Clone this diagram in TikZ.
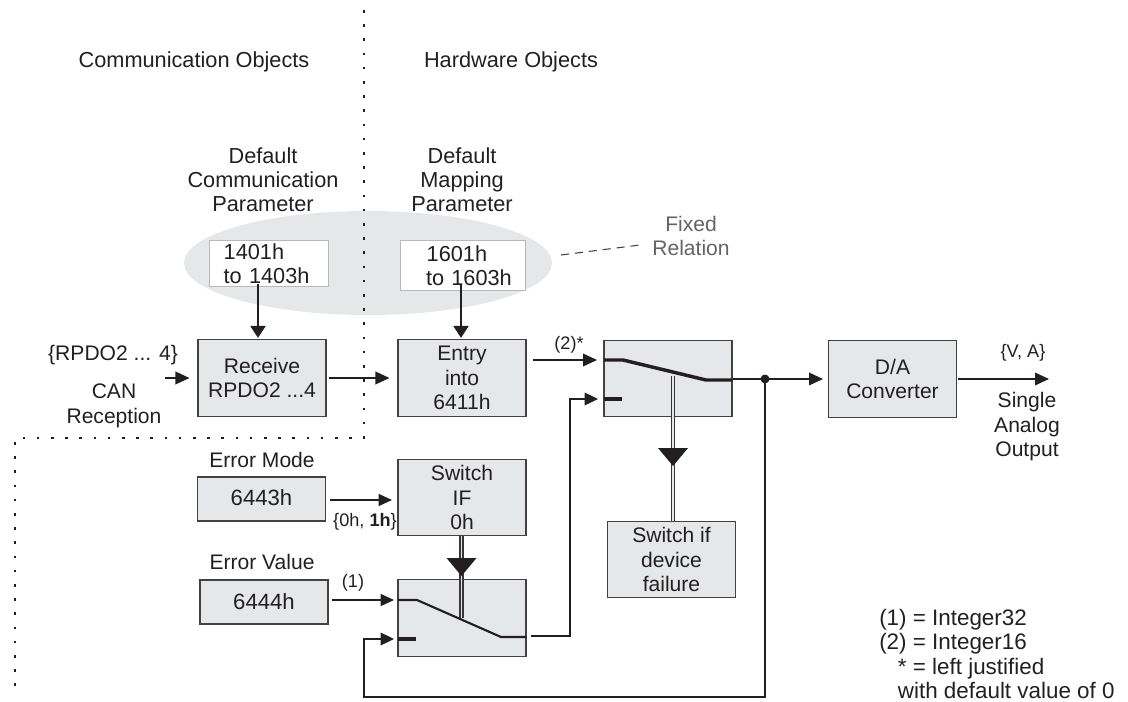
\documentclass[tikz,border=0pt]{standalone}
\usepackage{fontspec}
\setmainfont{Liberation Sans}
\usetikzlibrary{arrows.meta}
\definecolor{boxgray}{HTML}{E6E7E8}
\definecolor{ink}{HTML}{231F20}
\definecolor{fixedgray}{HTML}{646466}
\tikzset{
  lbl/.style={inner sep=0pt,text=ink,align=center,font=\fontsize{15.8}{18.4}\selectfont},
  biglbl/.style={lbl,font=\fontsize{16.3}{18}\selectfont},
  small/.style={inner sep=0pt,text=ink,align=left,font=\fontsize{13.6}{15.6}\selectfont},
  box/.style={lbl,draw=ink!85,line width=0.8pt,fill=boxgray,minimum width=96pt,minimum height=57.5pt},
  lowbox/.style={box,minimum height=33pt,font=\fontsize{16.6}{18.4}\selectfont},
  whitebox/.style={biglbl,align=left,draw=black!28,line width=0.7pt,fill=white,minimum height=35pt},
  wire/.style={draw=ink,line width=1.1pt,-{Triangle[length=10.5pt,width=9.5pt]}},
  plainwire/.style={draw=ink,line width=0.9pt},
  thin wire/.style={draw=ink,line width=0.9pt,-{Triangle[length=10pt,width=9pt]}},
  heavy wire/.style={draw=ink,line width=2.1pt,-{Triangle[length=9pt,width=11pt]}},
  contact/.style={draw=ink,line width=2.6pt},
  dbl/.style={draw=ink!90,double=boxgray,double distance=1.4pt,line width=0.9pt},
  dotline/.style={draw=ink,line width=1.9pt,dash pattern=on 1.9pt off 8.75pt},
}
\begin{document}
\begin{tikzpicture}[x=0.75pt,y=-0.75pt]
\useasboundingbox (0,0) rectangle (1128,702);
\fill[boxgray] (368,263) ellipse [x radius=184,y radius=52];
\coordinate (dtop) at (364,10);
\coordinate (dcorner) at (364,438);
\coordinate (dleft) at (15,438);
\coordinate (dbottom) at (15,692);
\draw[dotline] (dtop) -- (dcorner) -- (dleft) -- (dbottom);

\node[biglbl] (comm) at (194,62) {Communication Objects};
\node[biglbl] (hard) at (511,62) {Hardware Objects};
\node[biglbl] (dcp) at (263,180) {Default\\Communication\\Parameter};
\node[biglbl] (dmp) at (462,180) {Default\\Mapping\\Parameter};
\node[lbl,text=fixedgray] (fixed) at (691,236) {Fixed\\Relation};
\coordinate (fixedend) at (561,255);
\coordinate (fixedstart) at (640,245);
\draw[draw=ink!85,line width=0.8pt,dash pattern=on 6pt off 4.5pt] (fixedend) -- (fixedstart);

\node[whitebox,minimum width=89.25pt,text width=89.25pt] (w1) at (268.5,263.5) {\hspace*{11pt}1401h\\\hspace*{11pt}to 1403h};
\node[whitebox,minimum width=93.75pt,minimum height=38pt,text width=93.75pt] (w2) at (462.5,265.5) {\hspace*{20pt}1601h\\\hspace*{19.5pt}to 1603h};

\node[box] (recv) at (262,378) {Receive\\RPDO2 ...4};
\node[box] (entry) at (462,378) {Entry\\into\\6411h};
\node[box] (sw1) at (668,378.5) {};
\node[box] (da) at (892.5,379) {\raisebox{7.5pt}{\parbox{90pt}{\centering D/A\\Converter}}};
\node[box] (swif) at (462,497.5) {\raisebox{-3.5pt}{\parbox{90pt}{\centering Switch\\IF\\0h}}};
\node[lowbox] (m43) at (261.5,499) {\raisebox{2.5pt}{6443h}};
\node[lowbox] (m44) at (264,602) {6444h};
\node[box] (sw2) at (462,618) {};
\node[box] (fail) at (671.5,559.5) {\raisebox{-2.5pt}{\parbox{90pt}{\centering Switch if\\device\\failure}}};

\node[lbl] (rpdo) at (113,355) {\{RPDO2 ... 4\}};
\node[lbl] (can) at (114,406) {CAN\\Reception};
\node[lbl] (emode) at (262,460) {Error Mode};
\node[lbl] (eval) at (262,562) {Error Value};
\node[small] (two) at (569,345) {(2)*};
\node[small] (one) at (353,583) {(1)};
\node[small] (zero) at (365,522) {\{0h, \textbf{1h}\}};
\node[small] (va) at (1023,353) {\{V, A\}};
\node[lbl] (sao) at (1027,427) {Single\\Analog\\Output};
\node[lbl,align=left,anchor=west,font=\fontsize{16.8}{18.2}\selectfont] (legend) at (879,654) {(1) = Integer32\\(2) = Integer16\\\hspace*{14pt}* = left justified\\\hspace*{14pt}with default value of 0};

% arrows
\coordinate (canin) at (165,378);
\coordinate (e1) at (533,360);
\coordinate (e2) at (597,360);
\coordinate (k1) at (330,500);
\coordinate (k2) at (392,500);
\coordinate (v1) at (332,600);
\coordinate (v2) at (394,600);
\coordinate (h1) at (258,284);
\coordinate (h2) at (258,338);
\coordinate (h3) at (461,284);
\coordinate (h4) at (461,338);
\draw[wire] (canin) -- ([xshift=-6pt]recv.west);
\draw[heavy wire] (h1) -- (h2);
\draw[heavy wire] (h3) -- (h4);
\draw[wire] ([xshift=2pt]recv.east) -- ([xshift=-6pt]entry.west);
\draw[wire] (e1) -- (e2);
\draw[thin wire] (k1) -- (k2);
\draw[thin wire] (v1) -- (v2);

% top switch
\coordinate (s1a) at (604,360);
\coordinate (s1b) at (623,360);
\coordinate (s1c) at (706,380);
\coordinate (s1d) at (732,380);
\draw[contact,line join=round] (s1a) -- (s1b) -- (s1c) -- (s1d);
\draw[draw=ink,line width=3pt] (604,399) -- (622,399);
\coordinate (d1) at (673,376);
\coordinate (d2) at (673,521);
\draw[dbl] (d1) -- (d2);
\fill[ink] (658,448) -- (688,448) -- (673,466) -- cycle;

% output with junction
\coordinate (junc) at (765,379);
\coordinate (daend) at (823,379);
\draw[wire] (sw1.east |- junc) -- (daend);
\fill[ink] (junc) circle (4.5);
\coordinate (aout) at (958,379);
\coordinate (aend) at (1049,379);
\draw[wire] (aout) -- (aend);

% lower switch
\coordinate (s2a) at (398,600);
\coordinate (s2b) at (417,600);
\coordinate (s2c) at (501,637);
\coordinate (s2d) at (526,637);
\coordinate (d3) at (461.5,536);
\coordinate (d4) at (461.5,618);
\draw[dbl] (d3) -- (d4);
\fill[ink] (446.5,558) -- (476.5,558) -- (461.5,576) -- cycle;
\draw[draw=ink,line width=1.6pt,line join=round] (s2a) -- (s2b) -- (s2c) -- (s2d);
\draw[draw=ink,line width=3.2pt] (398,639) -- (416,639);

% feedback
\coordinate (fb1) at (765,697);
\coordinate (fb2) at (364,697);
\coordinate (fb3) at (364,639);
\coordinate (fb4) at (394,639);
\draw[plainwire,-{Triangle[length=10pt,width=9.5pt]}] (junc) -- (fb1) -- (fb2) -- (fb3) -- (fb4);
\coordinate (o1) at (531,636);
\coordinate (o2) at (570,636);
\coordinate (o3) at (570,399);
\coordinate (o4) at (598,399);
\draw[plainwire,-{Triangle[length=10pt,width=9.5pt]}] (o1) -- (o2) -- (o3) -- (o4);
\end{tikzpicture}
\end{document}
